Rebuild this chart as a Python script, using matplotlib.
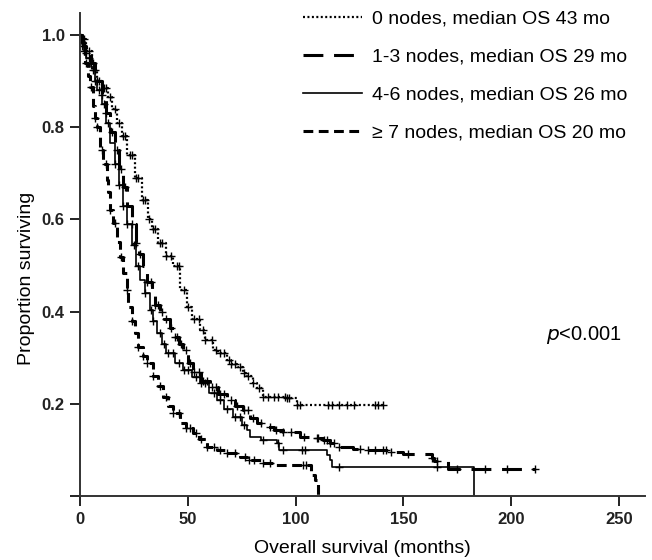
import numpy as np
import matplotlib
matplotlib.use('Agg')
import matplotlib.pyplot as plt

plt.rcParams['font.family'] = ['Liberation Sans', 'DejaVu Sans']

# Kaplan-Meier step points (months, proportion surviving)
t0 = [0, 1, 3, 5.6, 8, 10, 13, 15, 17, 19.5, 22, 25.5, 28.7, 31.5, 33.4, 36, 40, 43,
      46.4, 49.6, 52, 55.7, 58, 61.7, 64, 68, 70, 72.8, 75.6, 77, 80, 82, 85, 96, 100.5, 140.5]
s0 = [1.0, 0.99, 0.965, 0.924, 0.90, 0.885, 0.866, 0.84, 0.81, 0.78, 0.74, 0.69, 0.642, 0.60, 0.58,
      0.55, 0.52, 0.50, 0.447, 0.41, 0.385, 0.36, 0.34, 0.318, 0.31, 0.296, 0.288, 0.281, 0.268,
      0.26, 0.246, 0.235, 0.216, 0.213, 0.198, 0.198]
c0 = [2, 4, 6, 7, 9, 11, 12, 14, 16, 18, 20, 21, 23, 24, 26, 27, 29, 30, 32, 34, 35, 37, 38, 40, 42,
      45, 46, 48, 50, 53, 55, 57, 58, 61, 63, 65, 67, 69, 70, 72, 74, 76, 78, 80, 83, 85, 87, 90, 92,
      95, 96, 97, 100.6, 102, 115, 117, 120, 124, 127, 137, 138, 140.5]

t1 = [0, 1, 2, 3, 5, 7, 8, 10, 12, 14, 16, 18, 20, 22, 24, 26, 27.5, 29, 31, 33.4, 35, 37, 39, 41.7,
      44, 46, 47.8, 50, 52.4, 56, 60.3, 64, 68, 72, 75.6, 79, 82, 86.7, 90, 94, 102, 108, 112.7, 116,
      119, 126.6, 133, 143.8, 150, 163, 164, 170.7, 211]
s1 = [1.0, 0.985, 0.975, 0.96, 0.94, 0.915, 0.90, 0.87, 0.83, 0.79, 0.75, 0.71, 0.67, 0.63, 0.59,
      0.55, 0.525, 0.50, 0.465, 0.435, 0.415, 0.40, 0.385, 0.365, 0.345, 0.33, 0.318, 0.29, 0.27,
      0.25, 0.237, 0.222, 0.209, 0.197, 0.187, 0.17, 0.159, 0.151, 0.145, 0.14, 0.129, 0.127, 0.122,
      0.116, 0.107, 0.103, 0.101, 0.096, 0.092, 0.083, 0.077, 0.06, 0.06]
c1 = [1, 3, 5, 6, 8, 10, 12, 15, 17, 19, 21, 24, 26, 28, 31, 33, 35, 36, 38, 40, 42, 44, 45, 47, 49,
      51, 53, 55, 57, 59, 61, 63, 65, 67, 70, 73, 76, 78, 80, 84, 88, 91, 94, 98, 104, 110, 110.5,
      113, 114.5, 116, 118, 120, 130, 133.6, 137, 140.5, 142, 144, 152, 163, 165.6, 175, 188, 198, 211]

t2 = [0, 1, 2, 3, 5, 7, 8, 10, 12, 14, 16, 18, 20, 22, 24, 26, 28, 30, 32.5, 34, 35.7, 38, 40, 44,
      47.8, 52, 55.7, 60, 63.5, 67, 71, 75, 77.5, 79, 84, 91.4, 92.5, 114.5, 116, 117, 182.7]
s2 = [1.0, 0.98, 0.965, 0.95, 0.93, 0.90, 0.88, 0.85, 0.81, 0.765, 0.72, 0.675, 0.63, 0.59, 0.545,
      0.50, 0.47, 0.44, 0.404, 0.38, 0.354, 0.33, 0.311, 0.29, 0.274, 0.258, 0.246, 0.225, 0.209,
      0.19, 0.172, 0.155, 0.144, 0.129, 0.122, 0.116, 0.101, 0.09, 0.079, 0.064, 0.0]
c2 = [2, 4, 7, 9, 11, 13, 16, 18, 20, 22, 25, 27, 30, 33, 34, 37, 39, 41, 43, 46, 48, 50, 54, 56,
      58, 62, 65, 68, 72, 74, 76, 85, 92, 94, 103, 104.5, 120, 165.5]

t3 = [0, 1, 2.3, 3.5, 4.6, 6, 7, 7.9, 9.3, 10.7, 12.5, 13, 13.9, 15.3, 17, 18.6, 20, 21.6, 22.4, 24,
      25.5, 27, 29, 31, 34, 36, 38.6, 41, 43, 46.4, 49, 52.4, 55, 58.8, 63.5, 68, 74, 77.4, 85, 91,
      107, 109, 110.5]
s3 = [1.0, 0.975, 0.94, 0.91, 0.888, 0.845, 0.82, 0.80, 0.75, 0.72, 0.686, 0.66, 0.62, 0.592,
      0.551, 0.519, 0.484, 0.447, 0.41, 0.38, 0.354, 0.324, 0.305, 0.289, 0.26, 0.24, 0.216, 0.197,
      0.18, 0.159, 0.148, 0.137, 0.125, 0.108, 0.101, 0.094, 0.085, 0.079, 0.072, 0.068, 0.047,
      0.036, 0.0]
c3 = [1, 3, 5, 7, 8, 10, 12, 14, 16, 19, 22, 24, 27, 29, 31, 34, 37, 40, 43, 46, 49, 51, 54, 56, 59,
      62, 65, 68, 72, 76.5, 78.4, 80.5, 85, 88, 103.5, 105]

labels = ['0 nodes, median OS 43 mo', '1-3 nodes, median OS 29 mo',
          '4-6 nodes, median OS 26 mo', '\u2265 7 nodes, median OS 20 mo']

fig = plt.figure(figsize=(6.52, 5.6), dpi=100)
ax = fig.add_axes([0.1227, 0.1134, 0.8666, 0.864])

styles = [
    dict(lw=1.6, dashes=(0.9, 1.1)),
    dict(lw=2.2, dashes=(6.5, 3.5)),
    dict(lw=1.2, linestyle='-'),
    dict(lw=2.2, dashes=(3.2, 1.8)),
]

series = [(t0, s0, c0), (t1, s1, c1), (t2, s2, c2), (t3, s3, c3)]
for (t, s, c), lab, st in zip(series, labels, styles):
    t = np.array(t)
    s = np.array(s)
    ax.plot(t, s, drawstyle='steps-post', color='black', label=lab, **st)
    idx = np.searchsorted(t, np.array(c), side='right') - 1
    ax.plot(c, s[idx], '+', color='black', ms=6, mew=1.0, linestyle='none')

ax.set_xlim(0, 262)
ax.set_ylim(0, 1.048)
ax.set_xticks([0, 50, 100, 150, 200, 250])
ax.set_yticks([0, 0.2, 0.4, 0.6, 0.8, 1.0])
ax.set_yticklabels(['', '0.2', '0.4', '0.6', '0.8', '1.0'])
for lab in ax.get_xticklabels() + ax.get_yticklabels():
    lab.set_fontweight('bold')
ax.tick_params(direction='out', length=7, width=1.4, labelsize=12, colors='#222222', pad=4)

for side in ['top', 'right']:
    ax.spines[side].set_visible(False)
for side in ['left', 'bottom']:
    ax.spines[side].set_linewidth(1.4)
    ax.spines[side].set_color('#333333')

ax.set_xlabel('Overall survival (months)', fontsize=14)
ax.set_ylabel('Proportion surviving', fontsize=14)
ax.xaxis.set_label_coords(0.5, -0.09)
ax.yaxis.set_label_coords(-0.08, 0.45)

ax.text(233.8, 0.35, r'$\it{p}$<0.001', fontsize=14.5, ha='center', va='center')

ax.legend(loc='upper left', bbox_to_anchor=(0.395, 1.005), frameon=False, fontsize=14,
          handlelength=3.0, handletextpad=0.55, labelspacing=1.04, borderpad=0,
          borderaxespad=0)

fig.savefig('out.png', dpi=100)
